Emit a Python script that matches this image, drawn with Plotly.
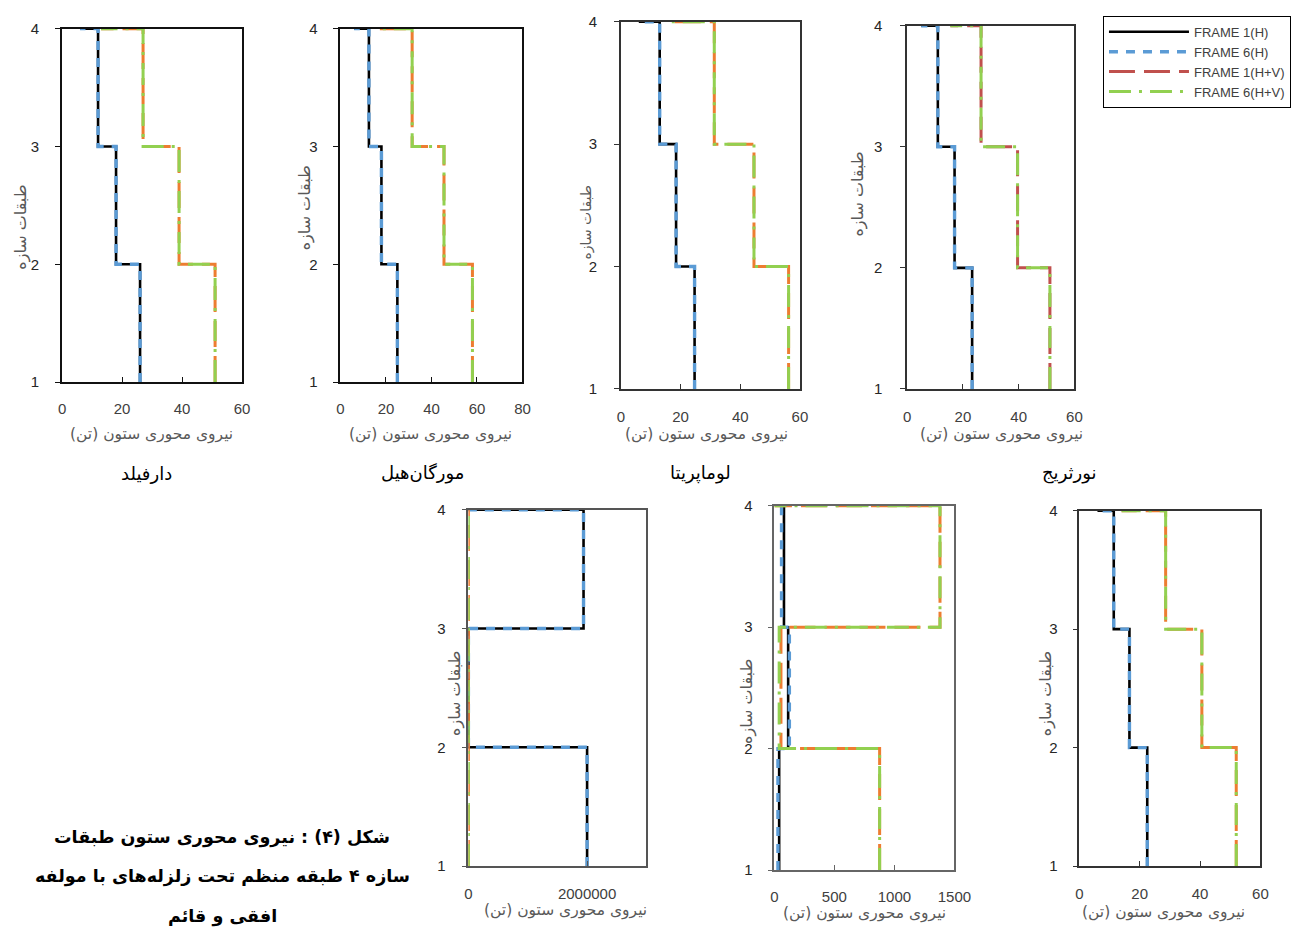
import plotly.graph_objects as go

W, H = 1301, 932

# Storey levels (bottom of storey 1 .. roof)
levels = [1, 2, 3, 4]

# Column axial force per storey (storey 1, 2, 3, roof) for each record
darfield_f1_h = [26, 18, 12, 6]
darfield_f6_h = [26, 18, 12, 6]
darfield_f1_hv = [51, 39, 27, 13]
darfield_f6_hv = [51, 39, 27, 13]

morganhill_f1_h = [25, 18, 12.5, 6]
morganhill_f6_h = [25, 18, 12.5, 6]
morganhill_f1_hv = [58, 45.5, 31.5, 17]
morganhill_f6_hv = [58, 45.5, 31.5, 17]

lomaprieta_f1_h = [24.7, 18.5, 13, 6]
lomaprieta_f6_h = [24.7, 18.5, 13, 6]
lomaprieta_f1_hv = [56.2, 44.6, 31.3, 16.5]
lomaprieta_f6_hv = [56.2, 44.6, 31.3, 16.5]

northridge_f1_h = [23.3, 17, 11, 5]
northridge_f6_h = [23.3, 17, 11, 5]
northridge_f1_hv = [51.2, 39.6, 26.5, 15.5]
northridge_f6_hv = [51.2, 39.6, 26.5, 15.5]

rec5_f1_h = [2.0e6, 30, 1.94e6, 0]
rec5_f6_h = [2.0e6, 30, 1.94e6, 0]
rec5_f1_hv = [55, 42, 30, 0]
rec5_f6_hv = [55, 42, 30, 0]

rec6_f1_h = [40, 115, 80, 10]
rec6_f6_h = [30, 125, 60, 10]
rec6_f1_hv = [877, 55, 1380, 0]
rec6_f6_hv = [877, 40, 1380, 0]

rec7_f1_h = [22.5, 16.6, 11.4, 6]
rec7_f6_h = [22.5, 16.6, 11.4, 6]
rec7_f1_hv = [52, 40.6, 28.6, 14]
rec7_f6_hv = [52, 40.6, 28.6, 14]

record_names = ["دارفیلد", "مورگان‌هیل", "لوماپریتا", "نورثریج"]
series_names = ["FRAME 1(H)", "FRAME 6(H)", "FRAME 1(H+V)", "FRAME 6(H+V)"]

x_title = "\u200fنیروی محوری ستون (تن)\u200f"
y_title = "طبقات سازه"


def px_x(px):
    return px / W


def px_y(py):
    return 1 - py / H


# panel boxes in pixels: (left, right, top, bottom), x range, x ticks, frame colour
panels = [
    dict(box=(59, 242, 20, 380), xr=[0, 60], tv=[0, 20, 40, 60], frame="#111111", fw=2,
         data=[darfield_f1_h, darfield_f6_h, darfield_f1_hv, darfield_f6_hv], red=False,
         xt=(150, 433), yt=(17, 222), ys=16, xstand=12, ystand=13),
    dict(box=(342, 527, 20, 380), xr=[0, 80], tv=[0, 20, 40, 60, 80], frame="#111111", fw=2,
         data=[morganhill_f1_h, morganhill_f6_h, morganhill_f1_hv, morganhill_f6_hv], red=False,
         xt=(434, 433), yt=(306, 203), ys=16, xstand=12, ystand=13),
    dict(box=(627, 809, 13, 387), xr=[0, 60], tv=[0, 20, 40, 60], frame="#333333", fw=1.5,
         data=[lomaprieta_f1_h, lomaprieta_f6_h, lomaprieta_f1_hv, lomaprieta_f6_hv], red=False,
         xt=(714, 433), yt=(592, 217), ys=14, xstand=13, ystand=14),
    dict(box=(918, 1088, 17, 387), xr=[0, 60], tv=[0, 20, 40, 60], frame="#333333", fw=1.5,
         data=[northridge_f1_h, northridge_f6_h, northridge_f1_hv, northridge_f6_hv], red=True,
         xt=(1014, 433), yt=(868, 188), ys=16, xstand=13, ystand=15),
    dict(box=(472, 653, 510, 873), xr=[0, 3.0e6], tv=[0, 2000000], frame="#555555", fw=1.5,
         data=[rec5_f1_h, rec5_f6_h, rec5_f1_hv, rec5_f6_hv], red=False,
         xt=(571, 918), yt=(459, 697), ys=16, xstand=13, ystand=13),
    dict(box=(783, 966, 506, 877), xr=[0, 1500], tv=[0, 500, 1000, 1500], frame="#666666", fw=1.5,
         data=[rec6_f1_h, rec6_f6_h, rec6_f1_hv, rec6_f6_hv], red=False,
         xt=(875, 921), yt=(755, 705), ys=16, xstand=12, ystand=12),
    dict(box=(1093, 1277, 511, 873), xr=[0, 60], tv=[0, 20, 40, 60], frame="#333333", fw=1.5,
         data=[rec7_f1_h, rec7_f6_h, rec7_f1_hv, rec7_f6_hv], red=False,
         xt=(1179, 920), yt=(1059, 697), ys=16, xstand=13, ystand=12),
]

styles = [
    dict(color="#000000", width=2.6, dash="solid"),
    dict(color="#5b9bd5", width=3.4, dash="9px,8px"),
    dict(color="#ed7d31", width=3.0, dash="26px,9px"),
    dict(color="#92d050", width=3.0, dash="22px,8px,3px,8px"),
]

fig = go.Figure()
layout = dict(
    width=W, height=H, autosize=False,
    margin=dict(l=0, r=0, t=0, b=0),
    paper_bgcolor="white", plot_bgcolor="white",
    font=dict(family="Liberation Sans, DejaVu Sans", size=14, color="#404040"),
)
annotations = []

for i, p in enumerate(panels):
    k = "" if i == 0 else str(i + 1)
    xa, ya = "x" + k, "y" + k
    left, right, top, bottom = p["box"]
    for j, vals in enumerate(p["data"]):
        st = dict(styles[j])
        if p["red"] and j == 2:
            st["color"] = "#c0504d"
        fig.add_trace(go.Scatter(
            x=vals, y=levels, mode="lines", line_shape="vh",
            line=st, name=series_names[j],
            showlegend=p["red"], legendrank=j + 1,
            xaxis=xa, yaxis=ya, hoverinfo="skip",
        ))
    layout["xaxis" + k] = dict(
        domain=[px_x(left), px_x(right)], anchor=ya, range=p["xr"],
        tickvals=p["tv"], tickformat="d", ticks="inside", ticklen=5, tickcolor=p["frame"],
        showline=True, linecolor=p["frame"], linewidth=p["fw"], mirror=True,
        showgrid=False, zeroline=False, ticklabelstandoff=p["xstand"],
        tickfont=dict(size=15, color="#404040"),
    )
    layout["yaxis" + k] = dict(
        domain=[px_y(bottom), px_y(top)], anchor=xa, range=[1, 4],
        tickvals=levels, ticks="outside", ticklen=5, tickcolor=p["frame"],
        showline=True, linecolor=p["frame"], linewidth=p["fw"], mirror=True,
        showgrid=False, zeroline=False, ticklabelstandoff=p["ystand"],
        tickfont=dict(size=15, color="#262626"),
    )
    annotations.append(dict(
        x=px_x(p["xt"][0]), y=px_y(p["xt"][1]), xref="paper", yref="paper",
        text=x_title, showarrow=False, xanchor="center", yanchor="middle",
        font=dict(family="DejaVu Sans", size=15.5, color="#595959"),
    ))
    annotations.append(dict(
        x=px_x(p["yt"][0]), y=px_y(p["yt"][1]), xref="paper", yref="paper",
        text=y_title, showarrow=False, textangle=-90, xanchor="center", yanchor="middle",
        font=dict(family="DejaVu Sans", size=p["ys"], color="#595959"),
    ))

# record names under the top row
for name, cx in zip(record_names, [145, 425, 708, 1083]):
    annotations.append(dict(
        x=px_x(cx), y=px_y(473), xref="paper", yref="paper", text=name,
        showarrow=False, xanchor="center", yanchor="middle",
        font=dict(family="DejaVu Sans", size=18, color="#000000"),
    ))

# figure caption
caption_lines = [
    "شکل (۴) : نیروی محوری ستون طبقات",
    "سازه ۴ طبقه منظم تحت زلزله‌های با مولفه",
    "افقی و قائم",
]
for line, cy in zip(caption_lines, [844, 884, 924]):
    annotations.append(dict(
        x=px_x(222), y=px_y(cy), xref="paper", yref="paper", text="<b>" + line + "</b>",
        showarrow=False, xanchor="center", yanchor="middle",
        font=dict(family="DejaVu Sans", size=17.5, color="#000000"),
    ))

layout["annotations"] = annotations
layout["legend"] = dict(
    x=px_x(1117), y=px_y(7), xanchor="left", yanchor="top",
    bordercolor="#000000", borderwidth=1, bgcolor="white",
    font=dict(family="Liberation Sans", size=13, color="#404040"),
    itemwidth=80, tracegroupgap=0,
)
fig.update_layout(**layout)
fig.write_html("out.html")
